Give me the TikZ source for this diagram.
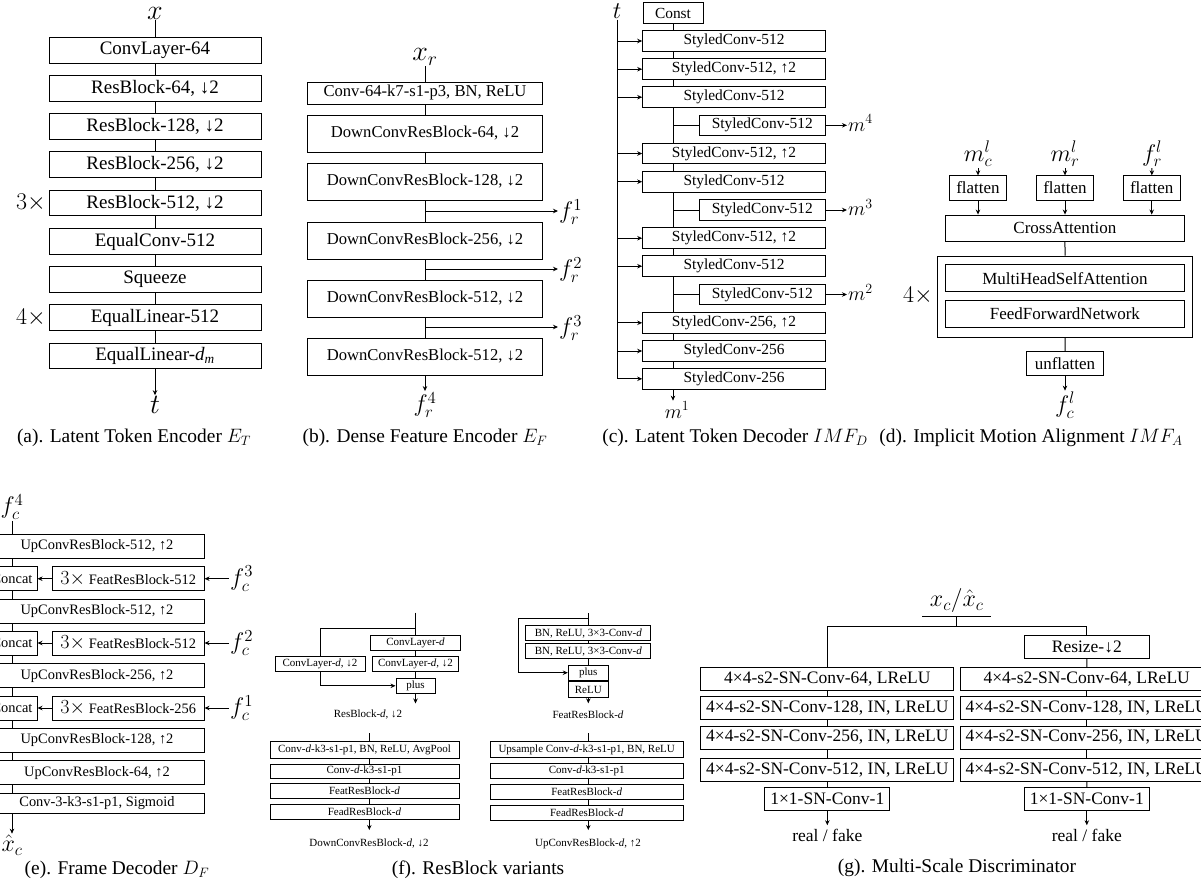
\RequirePackage{fix-cm}
\documentclass[tikz,border=0pt]{standalone}
\usepackage[no-math]{fontspec}
\setmainfont{Liberation Serif}
\usetikzlibrary{arrows.meta}
\tikzset{
  blk/.style={draw,line width=1pt,inner sep=0pt},
  lnk/.style={line width=1pt},
  arr/.style={line width=1pt,-{Stealth[length=5pt,width=4.5pt]}},
  txa/.style={font=\fontsize{19}{22}\selectfont},
  txb/.style={font=\fontsize{16.6}{19}\selectfont},
  txc/.style={font=\fontsize{15.4}{18}\selectfont},
  txd/.style={font=\fontsize{17}{20}\selectfont},
  txe/.style={font=\fontsize{14.4}{17}\selectfont},
  txf/.style={font=\fontsize{11}{13}\selectfont},
  txg/.style={font=\fontsize{17.5}{20}\selectfont},
  capt/.style={font=\fontsize{19.4}{22}\selectfont},
  mla/.style={font=\fontsize{28}{30}\selectfont,inner sep=1pt},
  mlb/.style={font=\fontsize{24}{26}\selectfont,inner sep=1pt},
  mlc/.style={font=\fontsize{20}{22}\selectfont,inner sep=1pt},
}
\begin{document}
\begin{tikzpicture}[x=1pt,y=-1pt]
\fill[white] (0,0) rectangle (1201,884);
\useasboundingbox (0,0) rectangle (1201,884);

% (a)
\node[mla] (xa) at (155,13) {$x$};
\node[blk,txa,minimum width=212pt,minimum height=25.5pt] (a1) at (155,50.3) {ConvLayer-64};
\node[blk,txa,minimum width=212pt,minimum height=25.5pt] (a2) at (155,88.5) {ResBlock-64, ↓2};
\node[blk,txa,minimum width=212pt,minimum height=25.5pt] (a3) at (155,126.5) {ResBlock-128, ↓2};
\node[blk,txa,minimum width=212pt,minimum height=25.5pt] (a4) at (155,164.5) {ResBlock-256, ↓2};
\node[blk,txa,minimum width=212pt,minimum height=25.5pt] (a5) at (155,203) {ResBlock-512, ↓2};
\node[blk,txa,minimum width=212pt,minimum height=25.5pt] (a6) at (155,241.5) {EqualConv-512};
\node[blk,txa,minimum width=212pt,minimum height=25.5pt] (a7) at (155,279.5) {Squeeze};
\node[blk,txa,minimum width=212pt,minimum height=25.5pt] (a8) at (155,317.5) {EqualLinear-512};
\node[blk,txa,minimum width=212pt,minimum height=25.5pt] (a9) at (155,356) {EqualLinear-\textit{d\textsubscript{m}}};
\node[mla] (ta) at (155,405) {$t$};
\node[mlb,anchor=east] (rep3a) at (47,203) {$3\times$};
\node[mlb,anchor=east] (rep4a) at (47,317.5) {$4\times$};
\draw[lnk] (xa) -- (a1);
\draw[lnk] (a1) -- (a2);
\draw[lnk] (a2) -- (a3);
\draw[lnk] (a3) -- (a4);
\draw[lnk] (a4) -- (a5);
\draw[lnk] (a5) -- (a6);
\draw[lnk] (a6) -- (a7);
\draw[lnk] (a7) -- (a8);
\draw[lnk] (a8) -- (a9);
\draw[arr] (a9) -- (ta);
\node[capt] (capa) at (134,438) {(a). Latent Token Encoder $E_T$};

% (b)
\node[mla] (xr) at (425,57) {$x_r$};
\node[blk,txb,minimum width=235pt,minimum height=22pt] (b1) at (425,93) {Conv-64-k7-s1-p3, BN, ReLU};
\node[blk,txb,minimum width=235pt,minimum height=37pt] (b2) at (425,133.5) {DownConvResBlock-64, ↓2};
\node[blk,txb,minimum width=235pt,minimum height=37pt] (b3) at (425,181.5) {DownConvResBlock-128, ↓2};
\node[blk,txb,minimum width=235pt,minimum height=37pt] (b4) at (425,240.5) {DownConvResBlock-256, ↓2};
\node[blk,txb,minimum width=235pt,minimum height=37pt] (b5) at (425,298.5) {DownConvResBlock-512, ↓2};
\node[blk,txb,minimum width=235pt,minimum height=37pt] (b6) at (425,356.5) {DownConvResBlock-512, ↓2};
\node[mlb,anchor=west] (fr1) at (558,212) {$f_r^1$};
\node[mlb,anchor=west] (fr2) at (558,270) {$f_r^2$};
\node[mlb,anchor=west] (fr3) at (558,328) {$f_r^3$};
\node[mlb] (fr4) at (425,405) {$f_r^4$};
\coordinate (br1) at (425,211);
\coordinate (br2) at (425,269);
\coordinate (br3) at (425,327);
\draw[lnk] (xr) -- (b1);
\draw[lnk] (b1) -- (b2);
\draw[lnk] (b2) -- (b3);
\draw[lnk] (b3) -- (b4);
\draw[lnk] (b4) -- (b5);
\draw[lnk] (b5) -- (b6);
\draw[arr] (br1) -- (br1 -| fr1.west);
\draw[arr] (br2) -- (br2 -| fr2.west);
\draw[arr] (br3) -- (br3 -| fr3.west);
\draw[arr] (b6) -- (fr4);
\node[capt] (capb) at (425,438) {(b). Dense Feature Encoder $E_F$};

% (c)
\node[mlb] (tc) at (617,11) {$t$};
\node[blk,txc,minimum width=60pt,minimum height=20.5pt] (ck) at (673,13.2) {Const};
\node[blk,txc,minimum width=182.6pt,minimum height=20.6pt] (c1) at (734,41) {StyledConv-512};
\node[blk,txc,minimum width=182.6pt,minimum height=20.6pt] (c2) at (734,69.2) {StyledConv-512, ↑2};
\node[blk,txc,minimum width=182.6pt,minimum height=20.6pt] (c3) at (734,97.2) {StyledConv-512};
\node[blk,txc,minimum width=126pt,minimum height=20.6pt] (s4) at (762.3,125.3) {StyledConv-512};
\node[blk,txc,minimum width=182.6pt,minimum height=20.6pt] (c5) at (734,153.5) {StyledConv-512, ↑2};
\node[blk,txc,minimum width=182.6pt,minimum height=20.6pt] (c6) at (734,181.7) {StyledConv-512};
\node[blk,txc,minimum width=126pt,minimum height=20.6pt] (s7) at (762.3,210) {StyledConv-512};
\node[blk,txc,minimum width=182.6pt,minimum height=20.6pt] (c8) at (734,238.2) {StyledConv-512, ↑2};
\node[blk,txc,minimum width=182.6pt,minimum height=20.6pt] (c9) at (734,266.2) {StyledConv-512};
\node[blk,txc,minimum width=126pt,minimum height=20.6pt] (s10) at (762.3,294.5) {StyledConv-512};
\node[blk,txc,minimum width=182.6pt,minimum height=20.6pt] (c11) at (734,322.8) {StyledConv-256, ↑2};
\node[blk,txc,minimum width=182.6pt,minimum height=20.6pt] (c12) at (734,351) {StyledConv-256};
\node[blk,txc,minimum width=182.6pt,minimum height=20.6pt] (c13) at (734,378.8) {StyledConv-256};
\node[mlc,anchor=west] (m4) at (847,123) {$m^4$};
\node[mlc,anchor=west] (m3) at (847,207.7) {$m^3$};
\node[mlc,anchor=west] (m2) at (847,292.2) {$m^2$};
\node[mlc] (m1) at (677,410) {$m^1$};
\draw[lnk] (ck) -- (ck |- c1.north);
\draw[lnk] (c1.south -| ck) -- (c2.north -| ck);
\draw[lnk] (c2.south -| ck) -- (c3.north -| ck);
\draw[lnk] (c3.south -| ck) -- (c5.north -| ck);
\draw[lnk] (c5.south -| ck) -- (c6.north -| ck);
\draw[lnk] (c6.south -| ck) -- (c8.north -| ck);
\draw[lnk] (c8.south -| ck) -- (c9.north -| ck);
\draw[lnk] (c9.south -| ck) -- (c11.north -| ck);
\draw[lnk] (c11.south -| ck) -- (c12.north -| ck);
\draw[lnk] (c12.south -| ck) -- (c13.north -| ck);
\draw[lnk] (s4.west -| ck) -- (s4.west);
\draw[lnk] (s7.west -| ck) -- (s7.west);
\draw[lnk] (s10.west -| ck) -- (s10.west);
\draw[arr] (s4) -- (s4 -| m4.west);
\draw[arr] (s7) -- (s7 -| m3.west);
\draw[arr] (s10) -- (s10 -| m2.west);
\draw[arr] (c13.south -| ck) -- (m1.north -| ck);
\draw[arr] (tc) |- (c13);
\draw[arr] (c1.west -| tc) -- (c1.west);
\draw[arr] (c2.west -| tc) -- (c2.west);
\draw[arr] (c3.west -| tc) -- (c3.west);
\draw[arr] (c5.west -| tc) -- (c5.west);
\draw[arr] (c6.west -| tc) -- (c6.west);
\draw[arr] (c8.west -| tc) -- (c8.west);
\draw[arr] (c9.west -| tc) -- (c9.west);
\draw[arr] (c11.west -| tc) -- (c11.west);
\draw[arr] (c12.west -| tc) -- (c12.west);
\node[capt] (capc) at (735,438) {(c). Latent Token Decoder $IMF_D$};

% (d)
\node[mlb,anchor=base] (mcl) at (978,161) {$m_c^l$};
\node[mlb,anchor=base] (mrl) at (1065,161) {$m_r^l$};
\node[mlb,anchor=base] (frl) at (1152,161) {$f_r^l$};
\node[blk,txd,minimum width=57pt,minimum height=24.3pt] (fl1) at (978,188) {flatten};
\node[blk,txd,minimum width=57pt,minimum height=24.3pt] (fl2) at (1065,188) {flatten};
\node[blk,txd,minimum width=57pt,minimum height=24.3pt] (fl3) at (1151.7,188) {flatten};
\node[blk,txd,minimum width=238.3pt,minimum height=26.3pt] (ca) at (1064.9,228.2) {CrossAttention};
\node[blk,minimum width=255pt,minimum height=81pt] (ob) at (1065.2,296.5) {};
\node[blk,txd,minimum width=238.3pt,minimum height=26.7pt] (mh) at (1064.9,278.3) {MultiHeadSelfAttention};
\node[blk,txd,minimum width=238.3pt,minimum height=26.7pt] (ff) at (1064.9,314) {FeedForwardNetwork};
\node[mlb,anchor=east] (rep4d) at (934,296) {$4\times$};
\node[blk,txd,minimum width=76.6pt,minimum height=24pt] (uf) at (1065,363.7) {unflatten};
\node[mlb] (fcl) at (1065,405) {$f_c^l$};
\draw[arr] (mcl) -- (fl1);
\draw[arr] (mrl) -- (fl2);
\draw[arr] (frl) -- (fl3);
\draw[arr] (fl1) -- (fl1 |- ca.north);
\draw[arr] (fl2) -- (fl2 |- ca.north);
\draw[arr] (fl3) -- (fl3 |- ca.north);
\draw[lnk] (ca) -- (ob);
\draw[lnk] (ob) -- (uf);
\draw[arr] (uf) -- (fcl);
\node[capt] (capd) at (1031,438) {(d). Implicit Motion Alignment $IMF_A$};

% (e)
\node[mlb] (fc4) at (12,507) {$f_c^4$};
\node[blk,txe,minimum width=214pt,minimum height=24pt] (e1) at (97,546.3) {UpConvResBlock-512, ↑2};
\node[blk,txe,minimum width=50pt,minimum height=24pt] (cc2) at (12,578.7) {Concat};
\node[blk,txe,minimum width=151.7pt,minimum height=24pt] (fe2) at (128.2,578.7) {{\fontsize{20}{22}\selectfont$3\times$} FeatResBlock-512};
\node[blk,txe,minimum width=214pt,minimum height=24pt] (e3) at (97,611) {UpConvResBlock-512, ↑2};
\node[blk,txe,minimum width=50pt,minimum height=24pt] (cc4) at (12,643) {Concat};
\node[blk,txe,minimum width=151.7pt,minimum height=24pt] (fe4) at (128.2,643) {{\fontsize{20}{22}\selectfont$3\times$} FeatResBlock-512};
\node[blk,txe,minimum width=214pt,minimum height=24pt] (e5) at (97,675.7) {UpConvResBlock-256, ↑2};
\node[blk,txe,minimum width=50pt,minimum height=24pt] (cc6) at (12,708) {Concat};
\node[blk,txe,minimum width=151.7pt,minimum height=24pt] (fe6) at (128.2,708) {{\fontsize{20}{22}\selectfont$3\times$} FeatResBlock-256};
\node[blk,txe,minimum width=214pt,minimum height=24pt] (e7) at (97,740.5) {UpConvResBlock-128, ↑2};
\node[blk,txe,minimum width=214pt,minimum height=24pt] (e8) at (97,772.8) {UpConvResBlock-64, ↑2};
\node[blk,txe,minimum width=214pt,minimum height=20pt] (e9) at (97,803.3) {Conv-3-k3-s1-p1, Sigmoid};
\node[mlb,anchor=west] (fc3) at (229,578.7) {$f_c^3$};
\node[mlb,anchor=west] (fc2) at (229,643) {$f_c^2$};
\node[mlb,anchor=west] (fc1) at (229,708) {$f_c^1$};
\node[mlb] (xhc) at (12,845) {$\hat{x}_c$};
\draw[lnk] (fc4) -- (fc4 |- e1.north);
\draw[lnk] (e1.south -| cc2) -- (cc2);
\draw[lnk] (cc2) -- (cc2 |- e3.north);
\draw[lnk] (e3.south -| cc4) -- (cc4);
\draw[lnk] (cc4) -- (cc4 |- e5.north);
\draw[lnk] (e5.south -| cc6) -- (cc6);
\draw[lnk] (cc6) -- (cc6 |- e7.north);
\draw[lnk] (e7.south -| cc6) -- (e8.north -| cc6);
\draw[lnk] (e8.south -| cc6) -- (e9.north -| cc6);
\draw[arr] (e9.south -| cc6) -- (xhc);
\draw[arr] (fe2) -- (cc2);
\draw[arr] (fe4) -- (cc4);
\draw[arr] (fe6) -- (cc6);
\draw[arr] (fc3) -- (fe2);
\draw[arr] (fc2) -- (fe4);
\draw[arr] (fc1) -- (fe6);
\node[capt] (cape) at (117,870) {(e). Frame Decoder $D_F$};

% (f)
\coordinate (ra0) at (415.5,612.7);
\coordinate (ra1) at (415.5,628);
\node[blk,txf,minimum width=90.7pt,minimum height=15pt] (rb1) at (415.5,642.5) {ConvLayer-\textit{d}};
\node[blk,txf,minimum width=86.7pt,minimum height=15pt] (rb2) at (415.5,664.2) {ConvLayer-\textit{d}, ↓2};
\node[blk,txf,minimum width=90pt,minimum height=15pt] (rb3) at (320,664.2) {ConvLayer-\textit{d}, ↓2};
\node[blk,txf,minimum width=39pt,minimum height=15pt] (pl1) at (415.5,685.8) {plus};
\coordinate (ra2) at (415.5,703.5);
\node[txf] (lra) at (368,715) {ResBlock-\textit{d}, ↓2};
\draw[lnk] (ra0) -- (rb1);
\draw[lnk] (ra1) -| (rb3);
\draw[lnk] (rb1) -- (rb2);
\draw[lnk] (rb2) -- (pl1);
\draw[arr] (rb3) |- (pl1);
\draw[arr] (pl1) -- (ra2);

\coordinate (da0) at (369.3,733);
\node[blk,txf,minimum width=189pt,minimum height=16.6pt] (d1) at (364.5,750) {Conv-\textit{d}-k3-s1-p1, BN, ReLU, AvgPool};
\node[blk,txf,minimum width=189pt,minimum height=14.3pt] (d2) at (364.5,771.2) {Conv-\textit{d}-k3-s1-p1};
\node[blk,txf,minimum width=189pt,minimum height=15pt] (d3) at (364.5,790.8) {FeatResBlock-\textit{d}};
\node[blk,txf,minimum width=189pt,minimum height=15pt] (d4) at (364.5,811.8) {FeadResBlock-\textit{d}};
\coordinate (da1) at (369.3,830);
\node[txf] (lda) at (369,844) {DownConvResBlock-\textit{d}, ↓2};
\draw[lnk] (da0) -- (da0 |- d1.north);
\draw[lnk] (d1.south -| da0) -- (d2.north -| da0);
\draw[lnk] (d2.south -| da0) -- (d3.north -| da0);
\draw[lnk] (d3.south -| da0) -- (d4.north -| da0);
\draw[arr] (d4.south -| da0) -- (da1);

\coordinate (fa0) at (588.3,613.3);
\coordinate (fa1) at (588.3,618.3);
\coordinate (fa2) at (518.3,618.3);
\node[blk,txf,minimum width=124.7pt,minimum height=15.3pt] (fb1) at (588.3,633.3) {BN, ReLU, 3×3-Conv-\textit{d}};
\node[blk,txf,minimum width=124.7pt,minimum height=15.3pt] (fb2) at (588.3,651.2) {BN, ReLU, 3×3-Conv-\textit{d}};
\node[blk,txf,minimum width=40pt,minimum height=14.7pt] (pl2) at (588.3,672.7) {plus};
\node[blk,txf,minimum width=40pt,minimum height=15.6pt] (rl) at (588.3,689.5) {ReLU};
\coordinate (fa3) at (588.3,703.3);
\node[txf] (lfa) at (588,714.3) {FeatResBlock-\textit{d}};
\draw[lnk] (fa0) -- (fb1);
\draw[lnk] (fb1) -- (fb2);
\draw[lnk] (fb2) -- (pl2);
\draw[lnk] (pl2) -- (rl);
\draw[arr] (fa1) -- (fa2) |- (pl2);
\draw[arr] (rl) -- (fa3);

\coordinate (ua0) at (588.3,733);
\node[blk,txf,minimum width=193.3pt,minimum height=15.6pt] (u1) at (586.7,749.5) {Upsample Conv-\textit{d}-k3-s1-p1, BN, ReLU};
\node[blk,txf,minimum width=193.3pt,minimum height=15pt] (u2) at (586.7,770.8) {Conv-\textit{d}-k3-s1-p1};
\node[blk,txf,minimum width=193.3pt,minimum height=15pt] (u3) at (586.7,791.5) {FeatResBlock-\textit{d}};
\node[blk,txf,minimum width=193.3pt,minimum height=15pt] (u4) at (586.7,812.5) {FeadResBlock-\textit{d}};
\coordinate (ua1) at (588.3,830);
\node[txf] (lua) at (588,844) {UpConvResBlock-\textit{d}, ↑2};
\draw[lnk] (ua0) -- (ua0 |- u1.north);
\draw[lnk] (u1.south -| ua0) -- (u2.north -| ua0);
\draw[lnk] (u2.south -| ua0) -- (u3.north -| ua0);
\draw[lnk] (u3.south -| ua0) -- (u4.north -| ua0);
\draw[arr] (u4.south -| ua0) -- (ua1);
\node[capt] (capf) at (478,870) {(f). ResBlock variants};

% (g)
\node[mlb,anchor=south,minimum width=69pt,inner xsep=0pt,inner ysep=4pt] (xg) at (956.7,616.7) {$x_c/\hat{x}_c$};
\coordinate (jg) at (956.7,626.7);
\node[blk,txg,minimum width=125pt,minimum height=22.6pt] (rs) at (1086.8,647) {Resize-↓2};
\node[blk,txg,minimum width=253.3pt,minimum height=22.7pt] (gl1) at (827.3,678.7) {4×4-s2-SN-Conv-64, LReLU};
\node[blk,txg,minimum width=253.3pt,minimum height=23pt] (gl2) at (827.3,708.2) {4×4-s2-SN-Conv-128, IN, LReLU};
\node[blk,txg,minimum width=253.3pt,minimum height=23pt] (gl3) at (827.3,737.5) {4×4-s2-SN-Conv-256, IN, LReLU};
\node[blk,txg,minimum width=253.3pt,minimum height=22.7pt] (gl4) at (827.3,769.7) {4×4-s2-SN-Conv-512, IN, LReLU};
\node[blk,txg,minimum width=125.3pt,minimum height=23pt] (gl5) at (827.3,799.2) {1×1-SN-Conv-1};
\node[blk,txg,minimum width=253.3pt,minimum height=22.7pt] (gr1) at (1086.7,678.7) {4×4-s2-SN-Conv-64, LReLU};
\node[blk,txg,minimum width=253.3pt,minimum height=23pt] (gr2) at (1086.7,708.2) {4×4-s2-SN-Conv-128, IN, LReLU};
\node[blk,txg,minimum width=253.3pt,minimum height=23pt] (gr3) at (1086.7,737.5) {4×4-s2-SN-Conv-256, IN, LReLU};
\node[blk,txg,minimum width=253.3pt,minimum height=22.7pt] (gr4) at (1086.7,769.7) {4×4-s2-SN-Conv-512, IN, LReLU};
\node[blk,txg,minimum width=125.3pt,minimum height=23pt] (gr5) at (1086.8,799.2) {1×1-SN-Conv-1};
\node[txg] (rfl) at (827.3,835) {real / fake};
\node[txg] (rfr) at (1086.8,835) {real / fake};
\draw[lnk] (xg.south west) -- (xg.south east);
\draw[lnk] (xg.south) -- (jg);
\draw[lnk] (gl1) |- (jg) -| (rs);
\draw[lnk] (rs) -- (gr1);
\draw[lnk] (gl1) -- (gl2);
\draw[lnk] (gl2) -- (gl3);
\draw[lnk] (gl3) -- (gl4);
\draw[lnk] (gl4) -- (gl5);
\draw[lnk] (gr1) -- (gr2);
\draw[lnk] (gr2) -- (gr3);
\draw[lnk] (gr3) -- (gr4);
\draw[lnk] (gr4) -- (gr5);
\draw[arr] (gl5) -- (rfl);
\draw[arr] (gr5) -- (rfr);
\node[capt] (capg) at (957,868) {(g). Multi-Scale Discriminator};
\end{tikzpicture}
\end{document}
